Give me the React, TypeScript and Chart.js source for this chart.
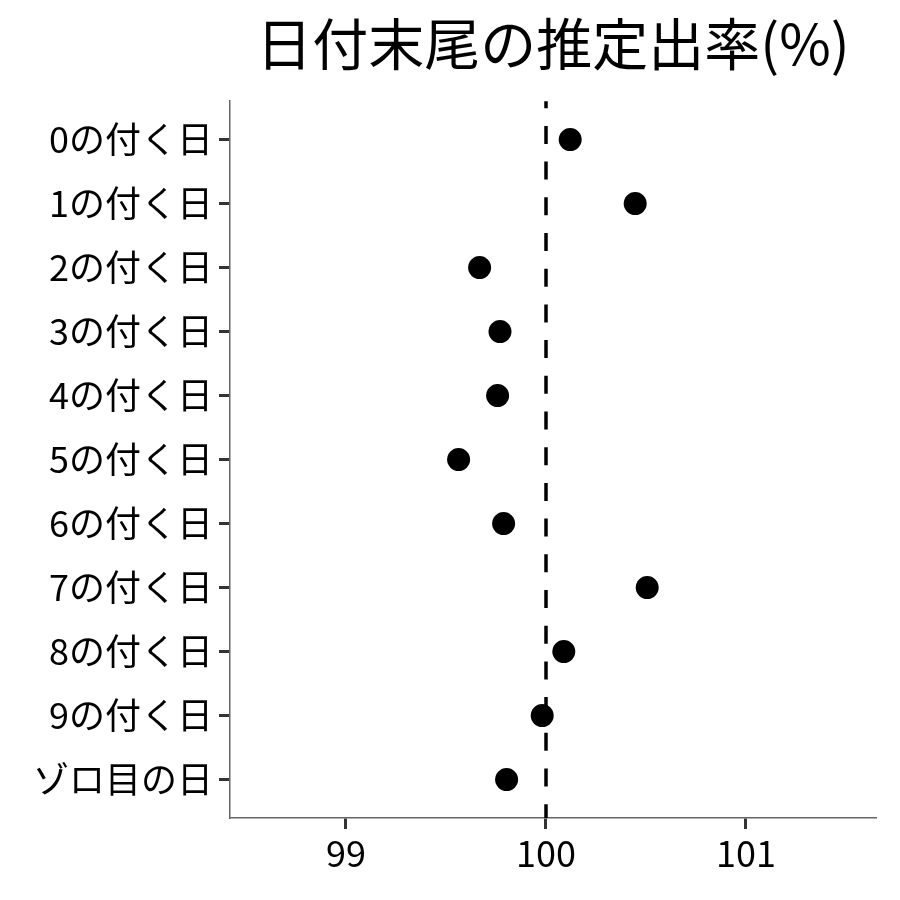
import React, { useEffect, useRef } from "react";
import { Chart, registerables } from "chart.js";

Chart.register(...registerables);

const titleText = "日付末尾の推定出率(%)";
const categories = [
  "0の付く日",
  "1の付く日",
  "2の付く日",
  "3の付く日",
  "4の付く日",
  "5の付く日",
  "6の付く日",
  "7の付く日",
  "8の付く日",
  "9の付く日",
  "ゾロ目の日",
];
const rates = [100.121, 100.446, 99.668, 99.77, 99.758, 99.563, 99.788, 100.506, 100.089, 99.981, 99.803];
const xTickValues = [99, 100, 101];
const referenceValue = 100;

const FONT = "'Noto Sans CJK JP', 'Noto Sans', sans-serif";

export default function App() {
  const ref = useRef<HTMLCanvasElement | null>(null);
  useEffect(() => {
    document.body.style.margin = "0";
    const refLine = {
      id: "refLine",
      beforeDatasetsDraw(chart: any) {
        const { ctx, chartArea, scales } = chart;
        const x = scales.x.getPixelForValue(referenceValue);
        ctx.save();
        ctx.strokeStyle = "#000";
        ctx.lineWidth = 3.5;
        ctx.setLineDash([18, 17.7]);
        ctx.lineDashOffset = 11;
        ctx.beginPath();
        ctx.moveTo(x, chartArea.top);
        ctx.lineTo(x, chartArea.bottom);
        ctx.stroke();
        ctx.restore();
      },
    };
    const chart = new Chart(ref.current as HTMLCanvasElement, {
      type: "scatter",
      data: {
        datasets: [
          {
            data: rates.map((v, i) => ({ x: v, y: i + 1 })),
            backgroundColor: "#000",
            borderColor: "#000",
            pointRadius: 11.5,
            pointHoverRadius: 11.5,
            borderWidth: 0,
          },
        ],
      },
      options: {
        animation: false,
        responsive: false,
        maintainAspectRatio: false,
        layout: { padding: { left: 0, right: 24, top: 0, bottom: 0 } },
        plugins: {
          legend: { display: false },
          tooltip: { enabled: false },
          title: {
            display: true,
            text: titleText,
            fullSize: false,
            color: "#000",
            font: { family: FONT, size: 56, weight: "normal" },
            padding: { top: 10, bottom: 24 },
          },
        },
        scales: {
          x: {
            type: "linear",
            min: 98.42,
            max: 101.65,
            afterBuildTicks(axis: any) {
              axis.ticks = xTickValues.map((v) => ({ value: v }));
            },
            afterFit(axis: any) {
              axis.height = 82;
            },
            grid: {
              drawOnChartArea: false,
              drawTicks: true,
              tickLength: 11,
              tickWidth: 3,
              tickColor: "#333",
            },
            border: { display: true, color: "#666", width: 1.5 },
            ticks: {
              color: "#000",
              padding: 3,
              font: { family: FONT, size: 36 },
              callback: (v: any) => String(v),
            },
          },
          y: {
            type: "linear",
            min: 0.4,
            max: 11.6,
            reverse: true,
            afterBuildTicks(axis: any) {
              axis.ticks = categories.map((_, i) => ({ value: i + 1 }));
            },
            afterFit(axis: any) {
              axis.width = 230;
            },
            grid: {
              drawOnChartArea: false,
              drawTicks: true,
              tickLength: 11,
              tickWidth: 3,
              tickColor: "#333",
            },
            border: { display: true, color: "#666", width: 1.5 },
            ticks: {
              color: "#000",
              padding: 6,
              font: { family: FONT, size: 36 },
              callback: (v: any) => categories[Math.round(Number(v)) - 1] ?? "",
            },
          },
        },
      },
      plugins: [refLine],
    });
    return () => chart.destroy();
  }, []);
  return (
    <div style={{ width: 900, height: 900, background: "#fff" }}>
      <canvas ref={ref} width={900} height={900} style={{ width: 900, height: 900, display: "block" }} />
    </div>
  );
}
